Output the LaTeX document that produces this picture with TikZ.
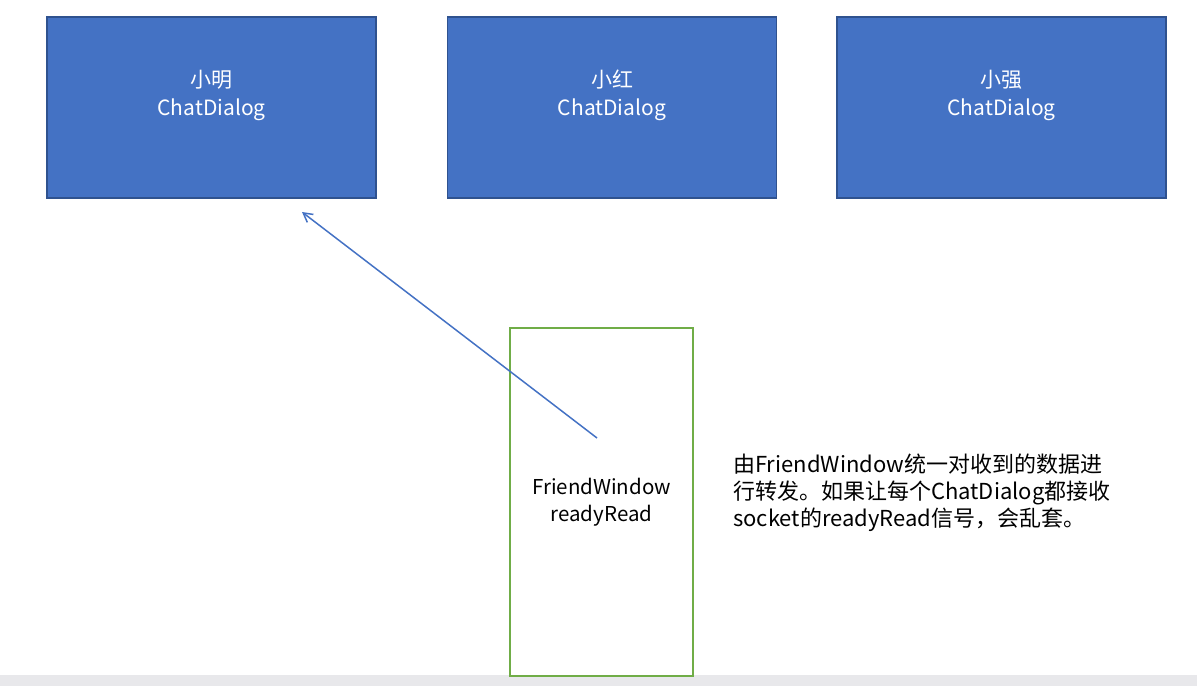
\documentclass[tikz,border=0pt]{standalone}
\usepackage{fontspec}
\setmainfont{Noto Sans CJK SC}
\usepackage{xcolor}
\usetikzlibrary{arrows.meta,positioning}
\definecolor{blueFill}{HTML}{4472C4}
\definecolor{blueStroke}{HTML}{2F528F}
\definecolor{greenStroke}{HTML}{70AD47}
\definecolor{stripFill}{HTML}{E8E8EB}
\tikzset{
  chat nd/.style={
    rectangle, draw=blueStroke, fill=blueFill, line width=1.5pt,
    minimum width=329pt, minimum height=181pt, inner sep=0pt
  },
  chat lbl/.style={
    align=center, text=white, font=\fontsize{21}{28}\selectfont
  },
  win nd/.style={
    rectangle, draw=greenStroke, line width=2pt, align=center,
    minimum width=183pt, minimum height=348pt, inner sep=0pt,
    font=\fontsize{20.5}{27}\selectfont
  },
  note/.style={
    align=left, anchor=west, inner sep=0pt,
    font=\fontsize{22}{27}\selectfont
  },
  arr/.style={-{Straight Barb[length=9pt,width=10pt]},
    line width=1.5pt, color=blueFill}
}
\begin{document}
\begin{tikzpicture}[x=1pt, y=-1pt]
  \useasboundingbox (0,0) rectangle (1197,686);
  \fill[stripFill] (0,675) rectangle (1197,686);

  % three dialogs
  \node[chat nd] (ming) at (211.5,107.5) {};
  \node[chat nd] (hong) at (612,107.5) {};
  \node[chat nd] (qiang) at (1001.5,107.5) {};
  \node[chat lbl] (mingT) at (211.5,95) {小明\\ChatDialog};
  \node[chat lbl] (hongT) at (612,95) {小红\\ChatDialog};
  \node[chat lbl] (qiangT) at (1001.5,95) {小强\\ChatDialog};

  % window
  \node[win nd] (win) at (601.5,502) {FriendWindow\\readyRead};

  \node[note] (note) at (733,493)
    {由FriendWindow统一对收到的数据进\\
     行转发。如果让每个ChatDialog都接收\\
     socket的readyRead信号，会乱套。};

  \coordinate (src) at (597,438);
  \coordinate (dst) at (302,212);
  \draw[arr] (src) -- (dst);
\end{tikzpicture}
\end{document}
